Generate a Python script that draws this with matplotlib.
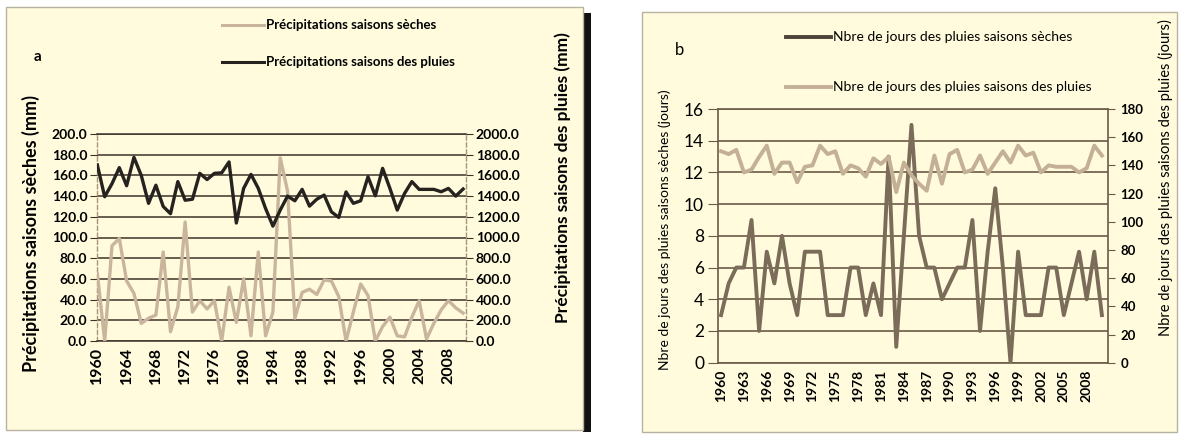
import numpy as np
import matplotlib
matplotlib.use("Agg")
import matplotlib.pyplot as plt
from matplotlib.patches import Rectangle
from matplotlib.lines import Line2D

plt.rcParams['font.family'] = ['Lato', 'DejaVu Sans']

years = list(range(1960, 2011))

# panel a : rainfall (mm)
pluie_seche = [65, 0, 92, 99, 58, 46, 17, 22, 25, 86,
               9, 33, 115, 28, 39, 31, 39, 0, 52, 18,
               60, 5, 86, 5, 28, 177, 145, 22, 47, 50,
               45, 59, 58, 43, 0, 28, 55, 44, 0, 14,
               23, 5, 4, 23, 39, 2, 17, 30, 39, 32, 27]
pluie_humide = [1700, 1394, 1520, 1675, 1500, 1775, 1600, 1330, 1505, 1300,
                1230, 1540, 1360, 1370, 1620, 1560, 1620, 1625, 1730, 1140,
                1475, 1610, 1475, 1280, 1110, 1265, 1400, 1355, 1465, 1303,
                1370, 1410, 1248, 1194, 1440, 1330, 1355, 1587, 1403, 1668,
                1474, 1265, 1426, 1540, 1465, 1465, 1465, 1442, 1474, 1400, 1468]

# panel b : number of rainy days
jours_seche = [3, 5, 6, 6, 9, 2, 7, 5, 8, 5,
               3, 7, 7, 7, 3, 3, 3, 6, 6, 3,
               5, 3, 13, 1, 8, 15, 8, 6, 6, 4,
               5, 6, 6, 9, 2, 7, 11, 6, 0, 7,
               3, 3, 3, 6, 6, 3, 5, 7, 4, 7, 3]
jours_humide = [150, 148, 151, 135, 137, 146, 154, 134, 142, 142,
                128, 139, 140, 154, 148, 150, 134, 140, 138, 132,
                145, 141, 146, 121, 142, 133, 127, 122, 147, 127,
                148, 151, 135, 137, 147, 134, 142, 150, 142, 154,
                147, 149, 135, 140, 139, 139, 139, 135, 138, 154, 147]

lab_a_left = "Précipitations saisons sèches (mm)"
lab_a_right = "Précipitations saisons des pluies (mm)"
leg_a = ["Précipitations saisons sèches", "Précipitations saisons des pluies"]
lab_b_left = "Nbre de jours des pluies saisons sèches (jours)"
lab_b_right = "Nbre de jours des pluies saisons des pluies (jours)"
leg_b = ["Nbre de jours des pluies saisons sèches", "Nbre de jours des pluies saisons des pluies"]

W, H = 1181, 434
BG = '#fffbdc'
fig = plt.figure(figsize=(W / 100, H / 100), dpi=100)
fig.patch.set_facecolor('white')


def px(x, y):
    return x / W, 1 - y / H


def box(x0, y0, x1, y1, shadow=False):
    if shadow:
        fig.patches.append(Rectangle(px(x1, y1 + 2), 8 / W, (y1 - y0 - 4) / H,
                                     transform=fig.transFigure, facecolor='#111111',
                                     edgecolor='none', zorder=-5))
    fig.patches.append(Rectangle(px(x0, y1), (x1 - x0) / W, (y1 - y0) / H,
                                 transform=fig.transFigure, facecolor=BG,
                                 edgecolor='#b8b2a0', lw=1.0, zorder=-5))


def axes_px(x0, y0, x1, y1):
    l, b = px(x0, y1)
    return fig.add_axes([l, b, (x1 - x0) / W, (y1 - y0) / H])


box(6, 7, 583, 430, shadow=True)
box(642, 12, 1177, 432)

x = np.arange(len(years))

# ---------------- panel a ----------------
grid_a = '#3d3328'
ax = axes_px(97, 134, 466, 341)
ax.set_facecolor('none')
ax.plot(x, pluie_seche, color='#c9b59c', lw=2.4, zorder=3)
ax.set_ylim(0, 200)
ax.set_yticks(np.arange(0, 201, 20))
ax.set_yticklabels(['%.1f' % v for v in np.arange(0, 201, 20)], fontsize=10, fontweight='bold')
ax.set_xlim(-0.05, 50.4)
ax.set_xticks(x[::4])
ax.set_xticklabels([str(y) for y in years[::4]], rotation=90, fontsize=11.5, fontweight='bold')
ax.grid(axis='y', color=grid_a, lw=1.1)
ax.tick_params(axis='y', length=5, color=grid_a, pad=2)
ax.tick_params(axis='x', length=0, pad=4)
for s in ['left', 'right']:
    ax.spines[s].set_color('#a89478')
    ax.spines[s].set_linestyle((0, (3, 2)))
    ax.spines[s].set_linewidth(1.0)
for s in ['top', 'bottom']:
    ax.spines[s].set_color(grid_a)
    ax.spines[s].set_linewidth(1.1)
ax2 = ax.twinx()
ax2.plot(x, pluie_humide, color='#262220', lw=2.4, zorder=4)
ax2.set_ylim(0, 2000)
ax2.set_yticks(np.arange(0, 2001, 200))
ax2.set_yticklabels(['%.1f' % v for v in np.arange(0, 2001, 200)], fontsize=10, fontweight='bold')
ax2.tick_params(axis='y', length=5, color=grid_a, pad=2)
for s in ax2.spines.values():
    s.set_visible(False)

fig.text(*px(31, 234), lab_a_left, rotation=90, ha='center', va='center',
         fontsize=13, fontweight='bold')
fig.text(*px(563, 178), lab_a_right, rotation=90, ha='center', va='center',
         fontsize=12.5, fontweight='bold')
fig.text(*px(38, 57), 'a', ha='center', va='center', fontsize=11, fontweight='bold')

for i, (lab, col) in enumerate(zip(leg_a, ['#c9b59c', '#262220'])):
    yy = 25 + i * 37
    fig.lines.append(Line2D([222 / W, 264 / W], [1 - yy / H, 1 - yy / H], color=col,
                            lw=2.2, transform=fig.transFigure))
    fig.text(*px(266, yy), lab, ha='left', va='center', fontsize=9.5, fontweight='bold')

# ---------------- panel b ----------------
grid_b = '#6b5a48'
bx = axes_px(718, 109, 1108, 362.7)
bx.set_facecolor('none')
bx.plot(x, jours_seche, color='#7b6c5a', lw=2.8, zorder=4)
bx.set_ylim(0, 16)
bx.set_yticks(np.arange(0, 17, 2))
bx.tick_params(axis='y', labelsize=12.5, length=7, color=grid_b, pad=3)
bx.set_xlim(-0.4, 50.8)
bx.set_xticks(x[::3])
bx.set_xticklabels([str(y) for y in years[::3]], rotation=90, fontsize=10, fontweight='bold')
bx.tick_params(axis='x', length=0, pad=5)
bx.grid(axis='y', color=grid_b, lw=1.2)
for s in bx.spines.values():
    s.set_color(grid_b)
    s.set_linewidth(1.2)
bx2 = bx.twinx()
bx2.plot(x, jours_humide, color='#c3b095', lw=2.8, zorder=3)
bx2.set_ylim(0, 180)
bx2.set_yticks(np.arange(0, 181, 20))
bx2.set_yticklabels([str(v) for v in range(0, 181, 20)], fontsize=9.5, fontweight='bold')
bx2.tick_params(axis='y', length=5, color=grid_b, pad=4)
for s in bx2.spines.values():
    s.set_visible(False)

fig.text(*px(665, 230), lab_b_left, rotation=90, ha='center', va='center', fontsize=10)
fig.text(*px(1165, 178), lab_b_right, rotation=90, ha='center', va='center', fontsize=10.5)
fig.text(*px(679, 50), 'b', ha='center', va='center', fontsize=12)

for i, (lab, col) in enumerate(zip(leg_b, ['#4e4236', '#c3b095'])):
    yy = 37 + i * 50
    fig.lines.append(Line2D([786 / W, 831 / W], [1 - yy / H, 1 - yy / H], color=col,
                            lw=2.8, transform=fig.transFigure))
    fig.text(*px(833, yy), lab, ha='left', va='center', fontsize=10)

fig.savefig('out.png', dpi=100)
